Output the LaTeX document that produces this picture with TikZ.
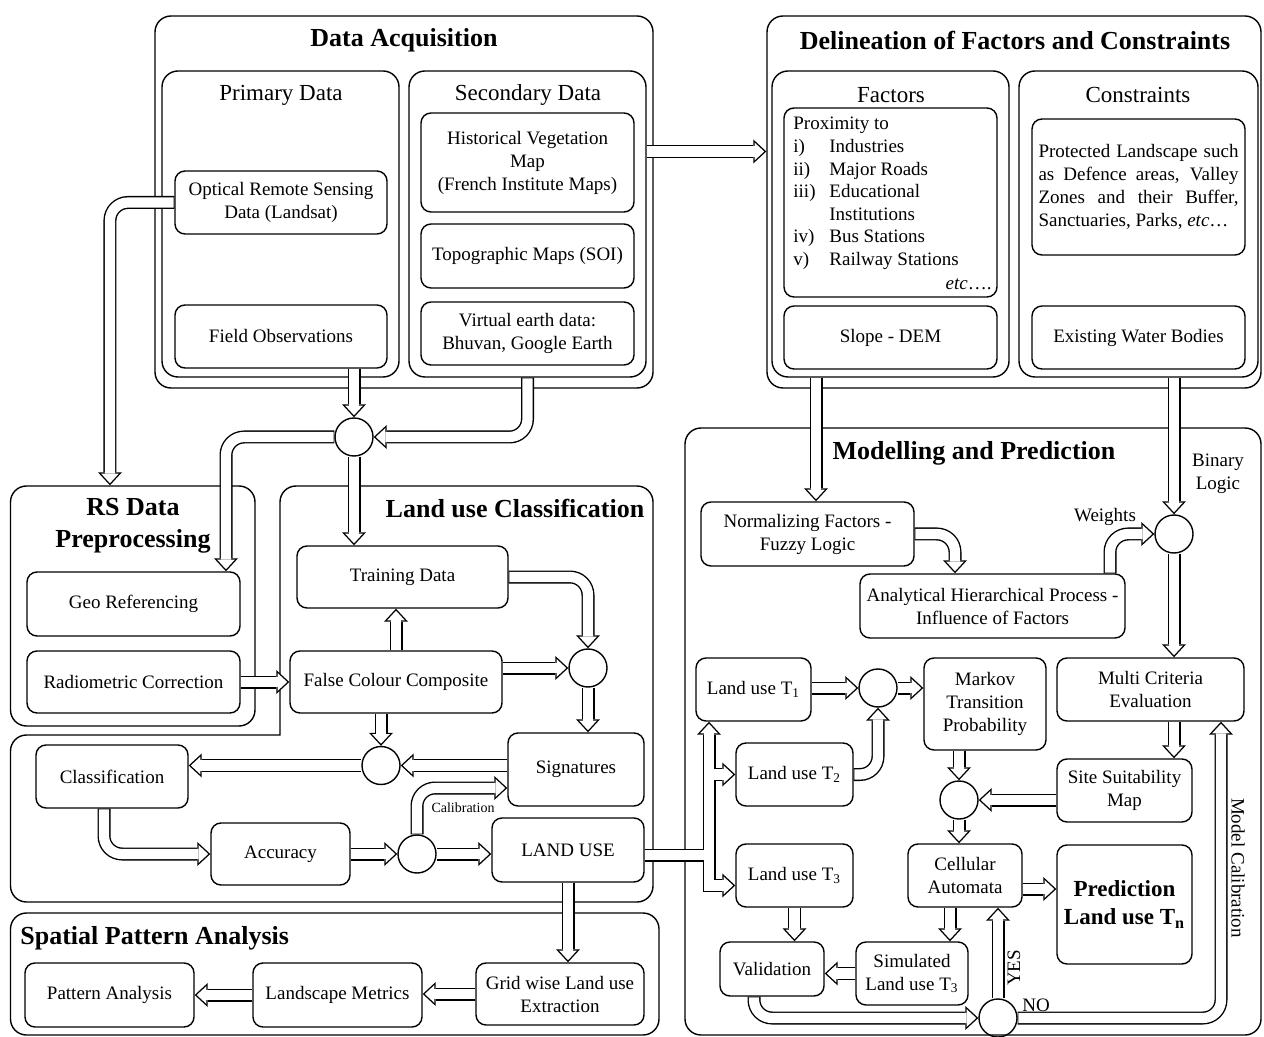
\documentclass[tikz,border=0pt]{standalone}
\usepackage{fontspec}
\setmainfont{Liberation Serif}
\usetikzlibrary{arrows.meta}

\begin{document}
\begin{tikzpicture}[x=0.5pt, y=-0.5pt]
  \tikzset{
    boxat/.style args={#1/#2/#3/#4}{minimum width={(#3-#1)*0.5pt}, minimum height={(#4-#2)*0.5pt}, at={({(#1+#3)/2},{(#2+#4)/2})}},
    box/.style={draw, line width=0.7pt, rounded corners=5pt, align=center, inner sep=1pt, font=\fontsize{9.5}{11.5}\selectfont},
    group/.style={draw, line width=0.7pt, rounded corners=8pt},
    junction/.style={draw, circle, line width=0.7pt, minimum size=19pt, inner sep=0pt},
    heading/.style={inner sep=0pt, align=center, font=\fontsize{13}{16}\selectfont\bfseries},
    subhead/.style={inner sep=0pt, font=\fontsize{11.5}{13}\selectfont},
    remark/.style={inner sep=0pt, align=center, font=\fontsize{9.5}{11.5}\selectfont},
    listline/.style={anchor=base west, inner sep=0pt, font=\fontsize{9.5}{11.5}\selectfont},
    flowback/.style={draw=black, line width=6.5pt, rounded corners=9pt, -{Triangle[length=6.5pt, width=12pt, line width=0pt]}},
    flowfront/.style={draw=white, line width=5.1pt, shorten >=1.03pt, shorten <=0.35pt, -{Triangle[length=4.77pt, width=8.8pt, line width=0pt]}},
    flow/.style={flowback, postaction={flowfront}}
  }
  \useasboundingbox (0,0) rectangle (1264,1037);

  \node[group, boxat=155/16/653/388] (dataacq) {};
  \node[group, boxat=162/71/399/377] (primbox) {};
  \node[group, boxat=409/71/646/377] (secbox) {};
  \node[heading] (datitle) at (404,40) {Data Acquisition};
  \node[subhead] (primtitle) at (281,95) {Primary Data};
  \node[subhead] (sectitle) at (528,95) {Secondary Data};
  \node[box, boxat=175/171/387/234] (optical) {Optical Remote Sensing\\Data (Landsat)};
  \node[box, boxat=175/305/387/368] (fieldobs) {Field Observations};
  \node[box, boxat=421/113/634/212] (histveg) {Historical Vegetation\\Map\\(French Institute Maps)};
  \node[box, boxat=421/224/634/288] (topo) {Topographic Maps (SOI)};
  \node[box, boxat=421/302/634/365] (virtual) {Virtual earth data:\\Bhuvan, Google Earth};

  \node[group, boxat=767/16/1261/388] (delin) {};
  \node[group, boxat=772/71/1009/377] (factbox) {};
  \node[group, boxat=1019/71/1258/377] (constbox) {};
  \node[heading] (deltitle) at (1015,40) {Delineation of Factors and Constraints};
  \node[subhead] (facttitle) at (891,95) {Factors};
  \node[subhead] (consttitle) at (1138,95) {Constraints};
  \node[box, boxat=784/108/997/297] (proxbox) {};
  \node[listline] (proxhead) at (793,130) {Proximity to};
  \foreach \lab/\txt [count=\k] in {i)/Industries, ii)/Major Roads, iii)/Educational, {}/Institutions, iv)/Bus Stations, v)/Railway Stations}
  {
    \node[listline] (plab\k) at (793,{130+22.6*\k}) {\lab};
    \node[listline] (pitem\k) at (829,{130+22.6*\k}) {\txt};
  }
  \node[listline, anchor=base east] (proxetc) at (992,290) {\textit{etc}\ldots.};
  \node[box, boxat=784/306/997/369] (slope) {Slope - DEM};
  \node[box, boxat=1032/119/1245/255, text width=100pt, align=justify] (protected) {Protected Landscape such as Defence areas, Valley Zones and their Buffer, Sanctuaries, Parks, \textit{etc}\ldots};
  \node[box, boxat=1032/306/1245/369] (water) {Existing Water Bodies};

  \node[group, boxat=10.5/486/255/726] (rsbox) {};
  \node[heading] (rstitle) at (133,526) {RS Data\\Preprocessing};
  \node[box, boxat=27/572/240/636] (geo) {Geo Referencing};
  \node[box, boxat=27/651/240/713] (radio) {Radiometric Correction};

  \draw[line width=0.7pt, rounded corners=8pt, line cap=rect] (280,735) -- (280,486) -- (653,486) -- (653,902) -- (10.5,902) -- (10.5,735) -- (280,735);
  \node[heading] (luctitle) at (515,509) {Land use Classification};
  \node[box, boxat=297/546/508/608] (training) {Training Data};
  \node[box, boxat=290/651/502/713] (fcc) {False Colour Composite};
  \node[box, boxat=508/733/644/806] (sig) {Signatures};
  \node[box, boxat=36/745/188/808] (classif) {Classification};
  \node[box, boxat=211/823/350/885] (accuracy) {Accuracy};
  \node[box, boxat=492/818/644/882] (landuse) {LAND USE};
  \node[junction] (circ1) at (354,437) {};
  \node[junction] (circ2) at (588,668) {};
  \node[junction] (circ3) at (381,765.5) {};
  \node[junction] (circ4) at (417,854) {};

  \node[group, boxat=10.5/913/659/1035] (spatial) {};
  \node[heading, anchor=west] (sptitle) at (20,938) {Spatial Pattern Analysis};
  \node[box, boxat=25/963/194/1027] (pattern) {Pattern Analysis};
  \node[box, boxat=253/963/422/1027] (landscape) {Landscape Metrics};
  \node[box, boxat=476/963/644/1025] (grid) {Grid wise Land use\\Extraction};

  \node[group, boxat=685/428/1261/1035] (modbox) {};
  \node[heading] (modtitle) at (974,453) {Modelling and Prediction};
  \node[box, boxat=701/502/914/566] (norm) {Normalizing Factors -\\Fuzzy Logic};
  \node[box, boxat=860/574/1125/638] (ahp) {Analytical Hierarchical Process -\\Influence of Factors};
  \node[box, boxat=696/658/811/721] (t1) {Land use T\textsubscript{1}};
  \node[box, boxat=924/658/1046/750] (markov) {Markov\\Transition\\Probability};
  \node[box, boxat=1057/658/1244/721] (mce) {Multi Criteria\\Evaluation};
  \node[box, boxat=736/743/853/806] (t2) {Land use T\textsubscript{2}};
  \node[box, boxat=1057/759/1192/822] (site) {Site Suitability\\Map};
  \node[box, boxat=736/844/853/907] (t3) {Land use T\textsubscript{3}};
  \node[box, boxat=908/844/1022/907] (cell) {Cellular\\Automata};
  \node[box, boxat=1057/845/1192/964, font=\fontsize{11.5}{14}\selectfont\bfseries] (pred) {Prediction\\Land use T\textsubscript{n}};
  \node[box, boxat=856/942/968/1005] (sim) {Simulated\\Land use T\textsubscript{3}};
  \node[box, boxat=720/942/824/996] (valid) {Validation};
  \node[junction] (circm1) at (1174,534) {};
  \node[junction] (circm2) at (878,688) {};
  \node[junction] (circm3) at (959,800) {};
  \node[junction] (circm4) at (998,1018) {};

  \coordinate (daout) at ([yshift=36.25pt]secbox.east);
  \draw[flow] (daout) -- (daout -| delin.west);
  \draw[flow] (optical.west) -| ([xshift=-11.4pt]rsbox.north);
  \draw[flow] (fieldobs.south -| circ1.north) -- (circ1.north);
  \draw[flow] (secbox.south) |- (circ1.east);
  \draw[flow] (circ1.west) -| ([xshift=46.25pt]geo.north);
  \draw[flow] (circ1.south) -- (circ1.south |- training.north);
  \draw[flow] (radio.east) -- (radio.east -| fcc.west);
  \draw[flow] (fcc.north) -- (fcc.north |- training.south);
  \draw[flow] (training.east) -| (circ2.north);
  \draw[flow] (fcc.east |- circ2.west) -- (circ2.west);
  \draw[flow] (circ2.south) -- (circ2.south |- sig.north);
  \draw[flow] (fcc.south -| circ3.north) -- (circ3.north);
  \draw[flow] (sig.west |- circ3.east) -- (circ3.east);
  \draw[flow] (circ3.west) -- (circ3.west -| classif.east);
  \draw[flow] ([xshift=-4pt]classif.south) |- (accuracy.west);
  \draw[flow] (accuracy.east |- circ4.west) -- (circ4.west);
  \draw[flow] (circ4.east) -- (circ4.east -| landuse.west);
  \draw[flow] (circ4.north) |- ([yshift=-9.25pt]sig.west);
  \node[remark, font=\fontsize{7}{8}\selectfont] (calib) at (463,808) {Calibration};
  \draw[flow] (landuse.south) -- (landuse.south |- grid.north);
  \draw[flow] (grid.west) -- (grid.west -| landscape.east);
  \draw[flow] (landscape.west) -- (landscape.west -| pattern.east);

  \coordinate (lusplit) at (709,855);
  \coordinate (luout) at (landuse.east |- lusplit);
  \draw[flowback, sharp corners] (luout) -- (lusplit) -- (lusplit |- t1.south);
  \draw[flowback, sharp corners] (luout) -- (lusplit) |- (t2.west);
  \draw[flowback, sharp corners] (luout) -- (lusplit) |- ([yshift=-5pt]t3.west);
  \draw[flowfront, sharp corners] (luout) -- (lusplit) -- (lusplit |- t1.south);
  \draw[flowfront, sharp corners] (luout) -- (lusplit) |- (t2.west);
  \draw[flowfront, sharp corners] (luout) -- (lusplit) |- ([yshift=-5pt]t3.west);

  \coordinate (fout) at ([xshift=-37.25pt]factbox.south);
  \draw[flow] (fout) -- (fout |- norm.north);
  \draw[flow] (constbox.south -| circm1.north) -- (circm1.north);
  \node[remark] (binary) at (1218,474) {Binary\\Logic};
  \draw[flow] (norm.east) -| ([xshift=-18.75pt]ahp.north);
  \draw[flow] ([xshift=58.75pt]ahp.north) |- (circm1.west);
  \node[remark] (weights) at (1105,517) {Weights};
  \draw[flow] (circm1.south) -- (circm1.south |- mce.north);
  \draw[flow] (t1.east |- circm2.west) -- (circm2.west);
  \draw[flow] (circm2.east) -- (circm2.east -| markov.west);
  \draw[flow] (t2.east) -| (circm2.south);
  \draw[flow] (markov.south -| circm3.north) -- (circm3.north);
  \draw[flow] (site.west |- circm3.east) -- (circm3.east);
  \draw[flow] (circm1.south |- mce.south) -- (circm1.south |- site.north);
  \draw[flow] (circm3.south) -- (circm3.south |- cell.north);
  \coordinate (cellout) at ([yshift=-6.75pt]cell.east);
  \draw[flow] (cellout) -- (cellout -| pred.west);
  \coordinate (cellbot) at ([xshift=-7.5pt]cell.south);
  \draw[flow] (cellbot) -- (cellbot |- sim.north);
  \draw[flow] (sim.west) -- (sim.west -| valid.east);
  \draw[flow] (t3.south) -- (t3.south |- valid.north);
  \draw[flow] ([xshift=-9pt]valid.south) |- (circm4.west);
  \draw[flow] (circm4.north) -- (circm4.north |- cell.south);
  \node[remark, rotate=90] (yes) at (1014,968) {YES};
  \draw[flow] (circm4.east) -| ([xshift=35.25pt]mce.south);
  \node[remark] (no) at (1036,1005) {NO};
  \node[remark, rotate=-90] (modcal) at (1238,868) {Model Calibration};
\end{tikzpicture}
\end{document}
